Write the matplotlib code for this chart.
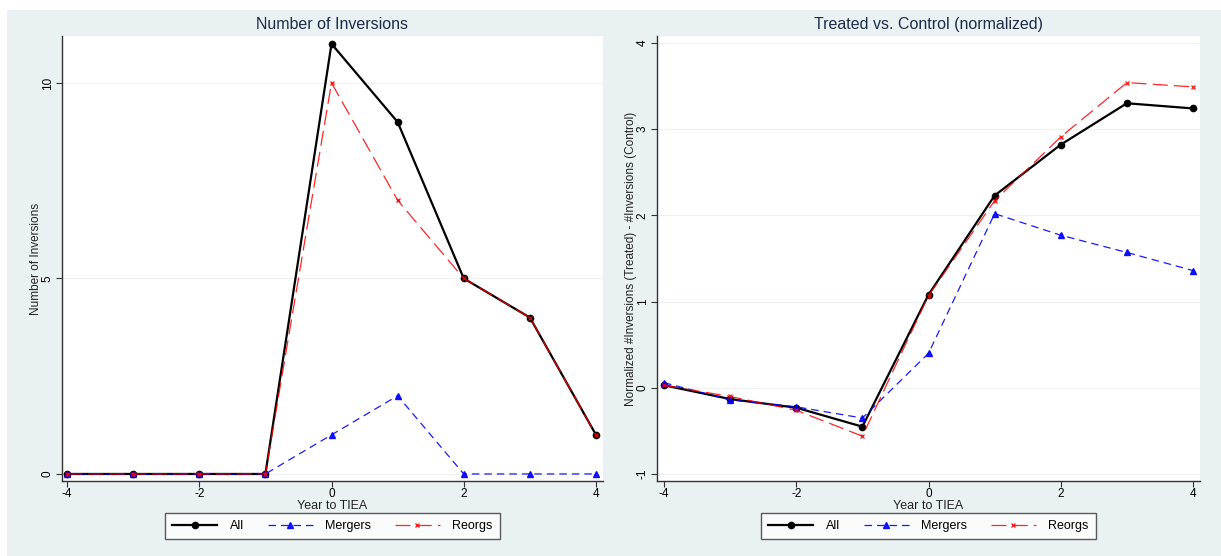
import matplotlib
matplotlib.use("Agg")
import matplotlib.pyplot as plt
from matplotlib.patches import Rectangle

plt.rcParams['font.family'] = ['Liberation Sans', 'DejaVu Sans']

years = [-4, -3, -2, -1, 0, 1, 2, 3, 4]
left_all = [0, 0, 0, 0, 11, 9, 5, 4, 1]
left_mergers = [0, 0, 0, 0, 1, 2, 0, 0, 0]
left_reorgs = [0, 0, 0, 0, 10, 7, 5, 4, 1]

right_all = [0.03, -0.13, -0.23, -0.45, 1.08, 2.23, 2.82, 3.30, 3.24]
right_mergers = [0.06, -0.14, -0.22, -0.35, 0.40, 2.02, 1.77, 1.57, 1.36]
right_reorgs = [0.03, -0.10, -0.26, -0.56, 1.07, 2.17, 2.91, 3.54, 3.49]

series_labels = ["All", "Mergers", "Reorgs"]
left_yticks = [0, 5, 10]
right_yticks = [-1, 0, 1, 2, 3, 4]
xticks = [-4, -2, 0, 2, 4]

W, H = 1221, 556
fig = plt.figure(figsize=(W / 100, H / 100), dpi=100, facecolor='white')
bg = '#EAF1F3'
fig.patches.append(Rectangle((7 / W, 0), 1 - 7 / W, 1 - 10 / H, transform=fig.transFigure,
                             facecolor=bg, edgecolor='none', zorder=-10))

def ax_rect(x0, x1, y0, y1):
    return [x0 / W, 1 - y1 / H, (x1 - x0) / W, (y1 - y0) / H]

axL = fig.add_axes(ax_rect(62, 603, 36, 481))
axR = fig.add_axes(ax_rect(657, 1200, 36, 481))

title_color = '#1E2B45'

def style(ax, ylabel, title, yticks, xlim, ylim, ylabelpad):
    ax.set_facecolor('white')
    for s in ['top', 'right']:
        ax.spines[s].set_visible(False)
    for s in ['left', 'bottom']:
        ax.spines[s].set_color('#333333')
        ax.spines[s].set_linewidth(1.0)
    ax.set_xlim(*xlim)
    ax.set_ylim(*ylim)
    ax.set_xticks(xticks)
    ax.set_xticklabels([f"{t}" for t in xticks])
    ax.set_yticks(yticks)
    ax.set_yticklabels([f"{t}" for t in yticks], rotation=90, va='center')
    ax.tick_params(axis='both', labelsize=8.5, length=4, width=0.8, color='#333333', pad=2)
    ax.tick_params(axis='x', pad=1)
    ax.grid(axis='y', color='#EEF1F2', linewidth=0.8)
    ax.set_axisbelow(True)
    ax.set_xlabel("Year to TIEA", fontsize=9, labelpad=0, color='#222222')
    ax.set_ylabel(ylabel, fontsize=8.5, labelpad=ylabelpad, color='#222222')
    ax.set_title(title, fontsize=11.5, color=title_color, pad=5)

def draw(ax, a, m, r):
    l1, = ax.plot(years, a, color='black', lw=1.6, marker='o', ms=4.5, label=series_labels[0], zorder=3)
    l2, = ax.plot(years, m, color='blue', lw=0.9, ls=(0, (6, 4)), marker='^', ms=5,
                  label=series_labels[1], zorder=4, alpha=0.9)
    l3, = ax.plot(years, r, color='red', lw=0.9, ls=(0, (12, 5)), marker='x', ms=3.5, mew=1,
                  label=series_labels[2], zorder=5, alpha=0.85)
    leg = ax.legend(handles=[l1, l2, l3], loc='upper center', bbox_to_anchor=(0.5, -0.072),
                    ncol=3, fontsize=9, frameon=True, fancybox=False, edgecolor='#333333',
                    handlelength=3.6, columnspacing=1.9, handletextpad=1.0, borderpad=0.55,
                    borderaxespad=0.0)
    leg.get_frame().set_linewidth(1.0)
    leg.get_frame().set_facecolor('white')

draw(axL, left_all, left_mergers, left_reorgs)
style(axL, "Number of Inversions", "Number of Inversions", left_yticks, (-4.076, 4.106), (-0.18, 11.2), 0)

draw(axR, right_all, right_mergers, right_reorgs)
style(axR, "Normalized #Inversions (Treated) - #Inversions (Control)", "Treated vs. Control (normalized)",
      right_yticks, (-4.106, 4.106), (-1.08, 4.08), 0)

fig.savefig("out.png", dpi=100, facecolor=fig.get_facecolor())
